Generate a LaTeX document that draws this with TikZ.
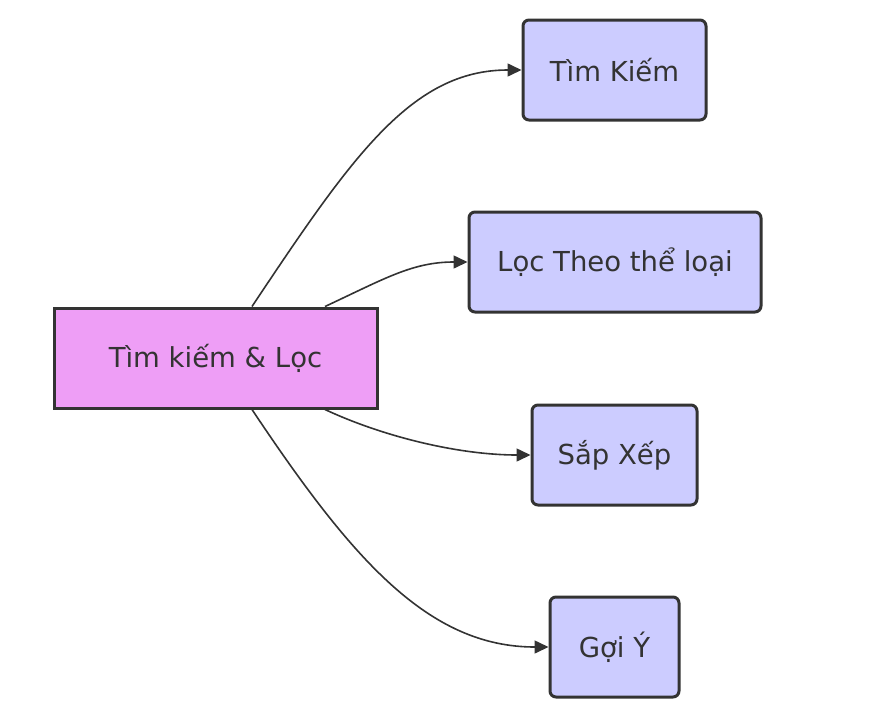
\documentclass[tikz,border=0pt]{standalone}
\usepackage{fontspec}
\setmainfont{DejaVu Sans}
\usetikzlibrary{arrows.meta,calc}
\definecolor{edgec}{HTML}{333333}
\definecolor{mainfill}{HTML}{EE9EF6}
\definecolor{subfill}{HTML}{CCCCFF}
\tikzset{
  box/.style={draw=edgec, line width=3pt, text=edgec, inner sep=0pt, minimum height=100pt,
    font=\fontsize{27.5}{32}\selectfont, anchor=center},
  mainbox/.style={box, fill=mainfill},
  subbox/.style={box, fill=subfill, rounded corners=6pt},
  conn/.style={draw=edgec, line width=1.6pt, -{Triangle[length=14pt,width=13pt]}},
}
\begin{document}
\begin{tikzpicture}[x=1pt,y=-1pt]
\useasboundingbox (0,0) rectangle (871,721);
\node[mainbox, minimum width=323pt] (main) at (215.5,358) {Tìm kiếm \& Lọc};
\node[subbox, minimum width=183pt] (tk) at (614.5,70) {Tìm Kiếm};
\node[subbox, minimum width=292pt] (loc) at (615,262) {Lọc Theo thể loại};
\node[subbox, minimum width=165pt] (sx) at (614.5,455) {Sắp Xếp};
\node[subbox, minimum width=129pt] (gy) at (614.5,647) {Gợi Ý};
\coordinate (m1) at ([xshift=36.5pt]main.north);
\coordinate (m2) at ([xshift=109.5pt]main.north);
\coordinate (m3) at ([xshift=109.5pt]main.south);
\coordinate (m4) at ([xshift=36.5pt]main.south);
\draw[conn] (m1) .. controls +(100,-150) and +(-110,0) .. (tk.west);
\draw[conn] (m2) .. controls +(60,-28) and +(-55,0) .. (loc.west);
\draw[conn] (m3) .. controls +(60,28) and +(-70,0) .. (sx.west);
\draw[conn] (m4) .. controls +(100,150) and +(-120,0) .. (gy.west);
\end{tikzpicture}
\end{document}
